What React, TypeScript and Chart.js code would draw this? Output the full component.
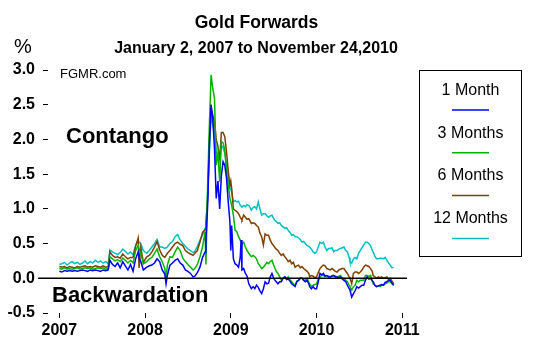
import React, { useEffect, useRef } from 'react';
import { Chart, registerables } from 'chart.js';
Chart.register(...registerables);

const FONT = '"Liberation Sans", Arial, Helvetica, sans-serif';

const titleText = 'Gold Forwards';
const subtitleText = 'January 2, 2007 to November 24,2010';
const unitText = '%';
const sourceText = 'FGMR.com';
const contangoText = 'Contango';
const backwardationText = 'Backwardation';

const seriesNames = ['1 Month', '3 Months', '6 Months', '12 Months'];
const seriesColors = ['#0000FF', '#00B400', '#804000', '#00C0C0'];
const yTickValues = [-0.5, 0, 0.5, 1, 1.5, 2, 2.5, 3];
const xTickValues = [2007, 2008, 2009, 2010, 2011];

const dates = [
  2007.00, 2007.03, 2007.06, 2007.09, 2007.12, 2007.15, 2007.18, 2007.21, 2007.24, 2007.27,
  2007.30, 2007.33, 2007.36, 2007.39, 2007.42, 2007.45, 2007.48, 2007.51, 2007.54, 2007.57,
  2007.59, 2007.62, 2007.65, 2007.68, 2007.71, 2007.74, 2007.77, 2007.80, 2007.83, 2007.86,
  2007.89, 2007.92, 2007.93, 2007.95, 2007.98, 2008.02, 2008.05, 2008.08, 2008.11, 2008.14,
  2008.17, 2008.20, 2008.23, 2008.245, 2008.26, 2008.29, 2008.32, 2008.35, 2008.38, 2008.41,
  2008.44, 2008.47, 2008.50, 2008.53, 2008.56, 2008.58, 2008.61, 2008.64, 2008.67, 2008.70,
  2008.71, 2008.73, 2008.75, 2008.77, 2008.79, 2008.81, 2008.83, 2008.85, 2008.87, 2008.89,
  2008.91, 2008.93, 2008.95, 2008.97, 2008.99, 2009.00, 2009.01, 2009.03, 2009.05, 2009.07,
  2009.09, 2009.11, 2009.12, 2009.13, 2009.15, 2009.17, 2009.19, 2009.21, 2009.24, 2009.26,
  2009.28, 2009.30, 2009.32, 2009.34, 2009.36, 2009.38, 2009.40, 2009.42, 2009.44, 2009.46,
  2009.48, 2009.50, 2009.51, 2009.53, 2009.55, 2009.57, 2009.59, 2009.61, 2009.63, 2009.65,
  2009.67, 2009.69, 2009.71, 2009.73, 2009.75, 2009.77, 2009.79, 2009.81, 2009.83, 2009.85,
  2009.87, 2009.89, 2009.91, 2009.92, 2009.94, 2009.96, 2009.98, 2010.00, 2010.02, 2010.04,
  2010.06, 2010.08, 2010.10, 2010.12, 2010.14, 2010.16, 2010.18, 2010.20, 2010.22, 2010.24,
  2010.26, 2010.28, 2010.30, 2010.32, 2010.34, 2010.36, 2010.38, 2010.39, 2010.41, 2010.43,
  2010.45, 2010.47, 2010.49, 2010.51, 2010.53, 2010.55, 2010.57, 2010.59, 2010.61, 2010.63,
  2010.65, 2010.66, 2010.68, 2010.70, 2010.72, 2010.74, 2010.76, 2010.78, 2010.80, 2010.82,
  2010.84, 2010.86, 2010.88, 2010.90,
];

const oneMonth = [
  0.10, 0.09, 0.11, 0.10, 0.11, 0.10, 0.11, 0.10, 0.11, 0.12,
  0.11, 0.10, 0.12, 0.11, 0.12, 0.11, 0.10, 0.12, 0.11, 0.12,
  0.26, 0.20, 0.17, 0.22, 0.15, 0.24, 0.18, 0.12, 0.20, 0.10,
  0.28, 0.38, 0.30, 0.24, 0.12, 0.16, 0.18, 0.19, 0.22, 0.28,
  0.24, 0.12, 0.06, -0.08, 0.04, 0.19, 0.22, 0.26, 0.28, 0.22,
  0.19, 0.12, 0.10, 0.07, 0.02, 0.03, 0.08, 0.16, 0.30, 0.38,
  0.55, 1.05, 1.90, 2.50, 2.30, 1.87, 1.15, 1.40, 1.00, 1.48,
  1.68, 1.63, 1.44, 1.10, 0.81, 0.40, 0.76, 0.28, 0.21, 0.19,
  0.16, 0.30, 0.55, 0.12, 0.14, 0.07, 0.03, -0.08, -0.15, -0.12,
  -0.15, -0.10, -0.13, -0.18, -0.22, -0.15, -0.05, -0.08, -0.07, 0.02,
  0.07, 0.00, -0.02, -0.05, -0.08, -0.05, -0.05, 0.00, 0.02, -0.02,
  -0.01, -0.04, -0.08, -0.10, -0.12, -0.05, -0.03, 0.00, 0.00, -0.03,
  -0.05, -0.03, -0.08, -0.12, -0.15, -0.12, -0.15, -0.15, -0.05, 0.07,
  0.05, 0.07, 0.03, 0.04, 0.02, 0.02, 0.03, 0.04, 0.02, 0.02,
  0.01, 0.02, -0.01, -0.03, -0.05, -0.10, -0.15, -0.17, -0.27, -0.22,
  -0.18, -0.12, -0.14, -0.12, -0.10, -0.10, -0.03, 0.02, -0.01, 0.00,
  -0.04, -0.05, -0.10, -0.12, -0.11, -0.10, -0.09, -0.10, -0.06, -0.05,
  -0.03, -0.03, -0.07, -0.10,
];

const threeMonths = [
  0.14, 0.13, 0.15, 0.13, 0.14, 0.13, 0.14, 0.15, 0.13, 0.14,
  0.15, 0.14, 0.15, 0.13, 0.14, 0.15, 0.14, 0.15, 0.13, 0.14,
  0.31, 0.28, 0.25, 0.27, 0.24, 0.29, 0.26, 0.22, 0.26, 0.22,
  0.40, 0.47, 0.42, 0.36, 0.21, 0.24, 0.28, 0.30, 0.36, 0.42,
  0.31, 0.24, 0.14, 0.00, 0.19, 0.31, 0.30, 0.38, 0.45, 0.40,
  0.29, 0.24, 0.20, 0.16, 0.12, 0.14, 0.20, 0.31, 0.45, 0.67,
  0.20, 1.34, 2.20, 2.93, 2.73, 2.59, 1.63, 1.80, 1.39, 1.97,
  1.95, 1.85, 1.53, 1.35, 1.15, 1.10, 1.05, 0.91, 0.69, 0.67,
  0.60, 0.55, 0.52, 0.50, 0.52, 0.45, 0.40, 0.36, 0.31, 0.33,
  0.31, 0.28, 0.21, 0.18, 0.14, 0.16, 0.19, 0.23, 0.21, 0.24,
  0.26, 0.19, 0.16, 0.10, 0.07, 0.02, -0.03, 0.00, 0.02, -0.01,
  0.02, -0.02, -0.05, -0.08, -0.10, -0.04, -0.03, 0.00, 0.00, -0.02,
  -0.03, 0.00, -0.06, -0.08, -0.12, -0.10, -0.09, -0.08, -0.02, 0.02,
  0.04, 0.04, 0.03, 0.04, 0.03, 0.02, 0.04, 0.04, 0.03, 0.02,
  0.03, 0.04, 0.00, 0.00, -0.03, -0.05, -0.10, -0.12, -0.17, -0.12,
  -0.10, -0.03, -0.05, -0.03, -0.03, -0.03, 0.04, 0.04, 0.03, 0.04,
  -0.03, -0.08, -0.10, -0.12, -0.11, -0.12, -0.10, -0.10, -0.08, -0.07,
  -0.05, -0.05, -0.08, -0.10,
];

const sixMonths = [
  0.17, 0.16, 0.17, 0.15, 0.17, 0.16, 0.15, 0.17, 0.16, 0.17,
  0.18, 0.16, 0.17, 0.16, 0.18, 0.17, 0.16, 0.18, 0.16, 0.17,
  0.38, 0.33, 0.30, 0.31, 0.29, 0.35, 0.31, 0.28, 0.30, 0.30,
  0.46, 0.58, 0.15, 0.45, 0.23, 0.31, 0.33, 0.38, 0.45, 0.53,
  0.41, 0.33, 0.30, 0.33, 0.36, 0.40, 0.45, 0.50, 0.52, 0.49,
  0.47, 0.40, 0.37, 0.35, 0.33, 0.36, 0.40, 0.52, 0.66, 0.70,
  0.80, 1.15, 2.00, 2.45, 2.35, 2.25, 2.00, 1.90, 1.70, 2.10,
  2.10, 2.04, 1.82, 1.55, 1.34, 1.40, 1.30, 1.00, 0.98, 0.96,
  0.93, 0.88, 0.86, 0.84, 0.91, 0.88, 0.85, 0.86, 0.79, 0.80,
  0.79, 0.76, 0.74, 0.65, 0.60, 0.48, 0.64, 0.62, 0.62, 0.55,
  0.50, 0.47, 0.45, 0.42, 0.40, 0.36, 0.33, 0.35, 0.31, 0.28,
  0.24, 0.26, 0.21, 0.23, 0.16, 0.18, 0.19, 0.15, 0.17, 0.14,
  0.12, 0.10, 0.07, 0.02, 0.04, 0.03, 0.01, 0.02, 0.08, 0.14,
  0.17, 0.19, 0.18, 0.14, 0.13, 0.12, 0.14, 0.12, 0.10, 0.09,
  0.12, 0.13, 0.14, 0.14, 0.10, 0.07, 0.02, 0.00, -0.08, 0.07,
  0.09, 0.09, 0.07, 0.09, 0.12, 0.16, 0.19, 0.18, 0.17, 0.14,
  0.10, 0.04, 0.02, 0.00, 0.02, 0.01, 0.02, 0.00, 0.01, 0.02,
  -0.02, 0.00, -0.04, -0.08,
];

const twelveMonths = [
  0.20, 0.21, 0.23, 0.19, 0.22, 0.24, 0.21, 0.23, 0.20, 0.22,
  0.25, 0.21, 0.24, 0.22, 0.26, 0.23, 0.25, 0.22, 0.24, 0.21,
  0.41, 0.38, 0.36, 0.34, 0.37, 0.42, 0.39, 0.35, 0.38, 0.34,
  0.48, 0.55, 0.52, 0.50, 0.40, 0.36, 0.40, 0.45, 0.50, 0.56,
  0.45, 0.45, 0.43, 0.44, 0.45, 0.50, 0.53, 0.60, 0.63, 0.55,
  0.50, 0.46, 0.42, 0.40, 0.37, 0.39, 0.46, 0.55, 0.62, 0.72,
  0.75, 1.20, 1.80, 2.35, 2.20, 2.10, 1.82, 1.75, 1.68, 1.92,
  1.88, 1.80, 1.65, 1.45, 1.30, 1.28, 1.24, 1.10, 1.12, 1.10,
  1.11, 1.05, 1.04, 1.03, 1.05, 1.03, 1.06, 1.05, 0.98, 1.02,
  1.03, 1.00, 1.10, 1.00, 0.91, 0.93, 0.93, 0.90, 0.88, 0.90,
  0.91, 0.86, 0.84, 0.82, 0.79, 0.80, 0.76, 0.74, 0.72, 0.73,
  0.69, 0.66, 0.62, 0.63, 0.60, 0.60, 0.58, 0.56, 0.52, 0.53,
  0.50, 0.47, 0.46, 0.45, 0.42, 0.38, 0.36, 0.38, 0.45, 0.52,
  0.50, 0.52, 0.45, 0.40, 0.43, 0.43, 0.44, 0.38, 0.40, 0.40,
  0.42, 0.43, 0.44, 0.45, 0.40, 0.38, 0.30, 0.24, 0.22, 0.28,
  0.30, 0.28, 0.36, 0.40, 0.44, 0.48, 0.52, 0.52, 0.50, 0.47,
  0.40, 0.38, 0.32, 0.28, 0.28, 0.29, 0.29, 0.28, 0.30, 0.26,
  0.22, 0.19, 0.15, 0.16,
];

const seriesValues = [oneMonth, threeMonths, sixMonths, twelveMonths];

const decorations = {
  id: 'decorations',
  afterDatasetsDraw(chart: any) {
    const { ctx, chartArea, scales } = chart;
    const y0 = scales.y.getPixelForValue(0);
    ctx.save();
    ctx.strokeStyle = '#000';
    ctx.lineWidth = 1.5;
    ctx.beginPath();
    ctx.moveTo(chartArea.left - 10, y0);
    ctx.lineTo(chartArea.right, y0);
    ctx.stroke();
    ctx.restore();
  },
  afterDraw(chart: any) {
    const { ctx } = chart;
    ctx.save();
    ctx.fillStyle = '#000';
    ctx.textBaseline = 'alphabetic';
    ctx.textAlign = 'center';
    ctx.font = `bold 17.5px ${FONT}`;
    ctx.fillText(titleText, 256.5, 28);
    ctx.font = `bold 16px ${FONT}`;
    ctx.fillText(subtitleText, 256, 52.5);
    ctx.textAlign = 'left';
    ctx.font = `20px ${FONT}`;
    ctx.fillText(unitText, 14, 53);
    ctx.font = `13px ${FONT}`;
    ctx.fillText(sourceText, 60, 78);
    ctx.font = `bold 22px ${FONT}`;
    ctx.fillText(contangoText, 66, 143);
    ctx.fillText(backwardationText, 52, 301.5);

    // legend box
    ctx.strokeStyle = '#000';
    ctx.lineWidth = 1;
    ctx.strokeRect(419.5, 70.5, 102, 186);
    ctx.textAlign = 'center';
    ctx.font = `16px ${FONT}`;
    chart.data.datasets.forEach((ds: any, i: number) => {
      const ty = 95 + i * 42.6;
      ctx.fillStyle = '#000';
      ctx.fillText(ds.label, 470.5, ty);
      const ly = 110 + i * 42.8;
      ctx.strokeStyle = ds.borderColor;
      ctx.lineWidth = 1.5;
      ctx.beginPath();
      ctx.moveTo(452, ly);
      ctx.lineTo(489, ly);
      ctx.stroke();
    });
    ctx.restore();
  },
};

export default function App() {
  const canvasRef = useRef<HTMLCanvasElement | null>(null);

  useEffect(() => {
    const canvas = canvasRef.current;
    if (!canvas) return;
    const tickFont = { family: FONT, size: 16, weight: 'bold' as const };
    const chart = new Chart(canvas, {
      type: 'line',
      data: {
        datasets: seriesNames.map((name, i) => ({
          label: name,
          data: dates.map((d, k) => ({ x: d, y: seriesValues[i][k] })),
          borderColor: seriesColors[i],
          backgroundColor: seriesColors[i],
          borderWidth: 1.5,
          pointRadius: 0,
          tension: 0,
          fill: false,
        })),
      },
      options: {
        animation: false,
        responsive: false,
        devicePixelRatio: 1,
        events: [],
        layout: { padding: { top: 70, right: 132, left: 0, bottom: 0 } },
        plugins: {
          legend: { display: false },
          tooltip: { enabled: false },
          title: { display: false },
        },
        scales: {
          x: {
            type: 'linear',
            min: 2006.868,
            max: 2011.055,
            afterBuildTicks: (scale: any) => {
              scale.ticks = xTickValues.map((v) => ({ value: v }));
            },
            afterFit: (scale: any) => {
              scale.height = 39;
            },
            grid: {
              display: true,
              drawOnChartArea: false,
              drawTicks: true,
              tickLength: 5,
              color: '#000',
              lineWidth: 1,
            },
            border: { display: false },
            ticks: {
              color: '#000',
              font: tickFont,
              padding: 3,
              maxRotation: 0,
              autoSkip: false,
              callback: (v: any) => String(v),
            },
          },
          y: {
            type: 'linear',
            min: -0.5,
            max: 3,
            afterBuildTicks: (scale: any) => {
              scale.ticks = yTickValues.map((v) => ({ value: v }));
            },
            afterFit: (scale: any) => {
              scale.width = 48;
            },
            grid: {
              display: true,
              drawOnChartArea: false,
              drawTicks: true,
              tickLength: 5,
              color: '#000',
              lineWidth: 1,
            },
            border: { display: false },
            ticks: {
              color: '#000',
              font: tickFont,
              padding: 8,
              autoSkip: false,
              callback: (v: any) => Number(v).toFixed(1),
            },
          },
        },
      },
      plugins: [decorations],
    });
    return () => chart.destroy();
  }, []);

  return (
    <div style={{ position: 'fixed', left: 0, top: 0, width: 539, height: 352, background: '#fff' }}>
      <canvas ref={canvasRef} width={539} height={352} style={{ display: 'block' }} />
    </div>
  );
}
